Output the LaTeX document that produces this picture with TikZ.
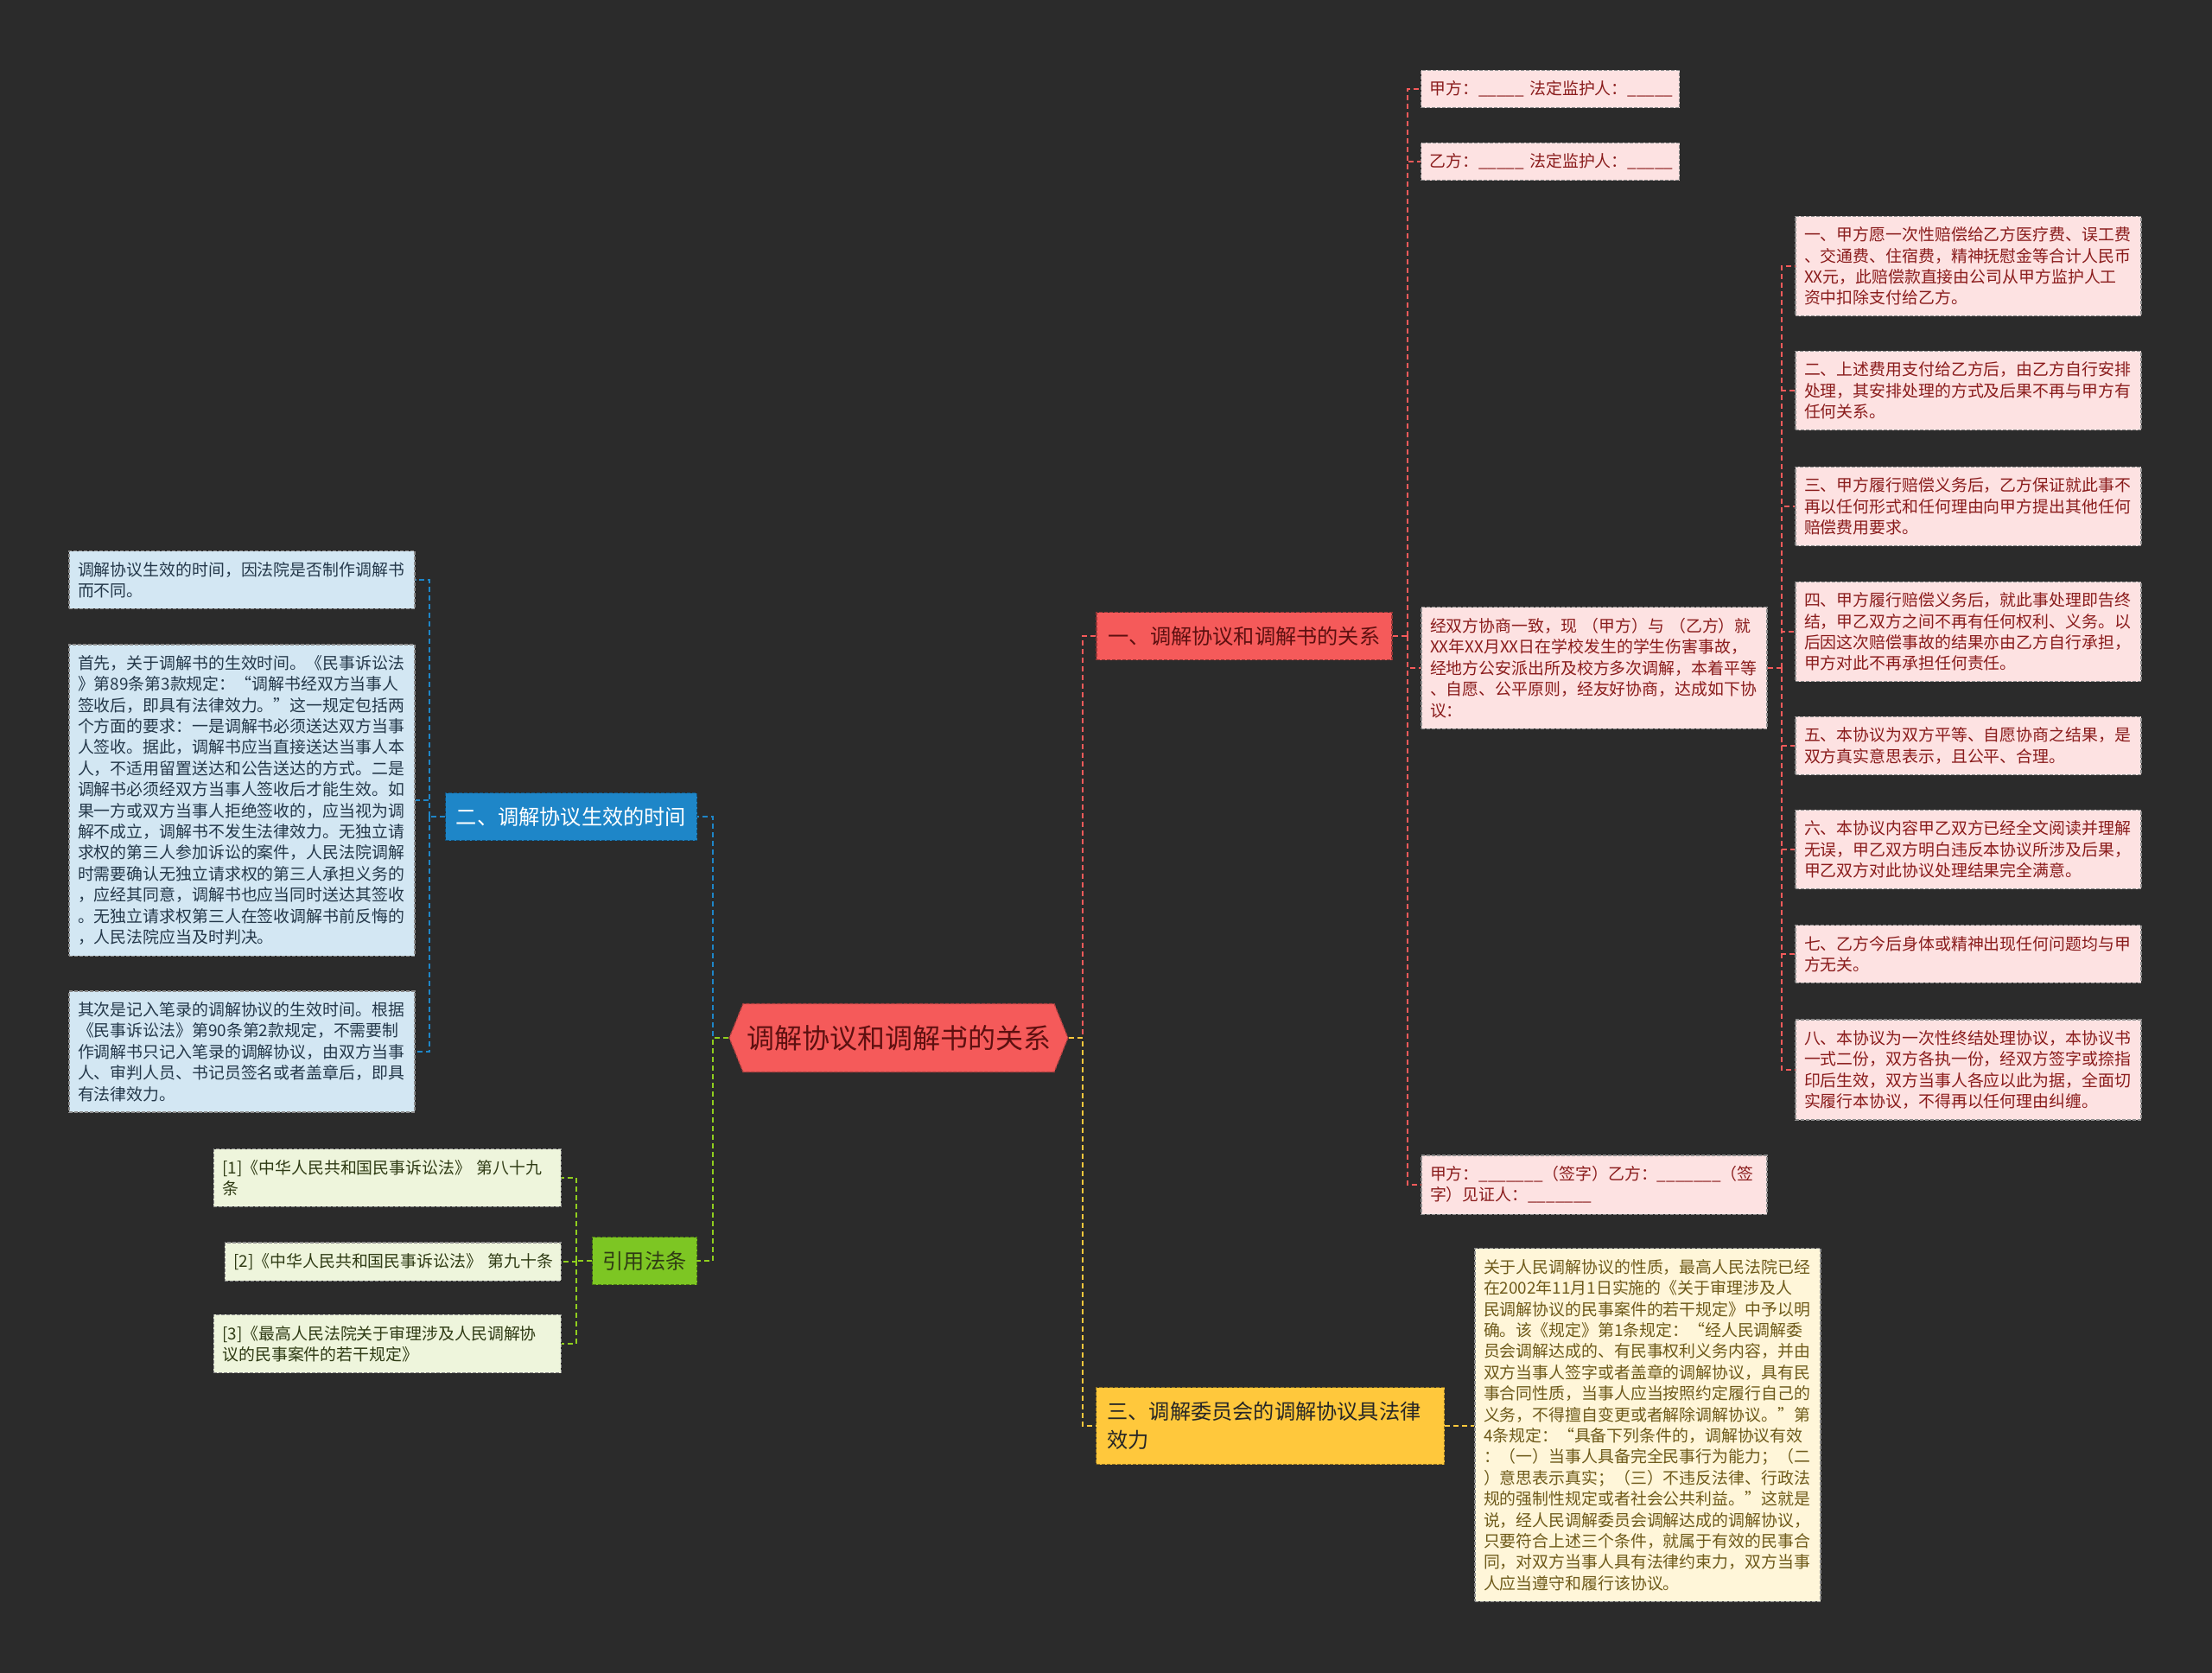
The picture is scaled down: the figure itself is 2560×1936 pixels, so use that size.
\documentclass[tikz,border=0pt]{standalone}
\usepackage{fontspec}
\newfontfamily\cjk{Noto Sans CJK SC}
\usetikzlibrary{positioning, shapes.symbols, calc}

\definecolor{canvas}{HTML}{2B2B2B}
\definecolor{rootred}{HTML}{F55A5A}
\definecolor{rootink}{HTML}{5E1010}
\definecolor{redleaf}{HTML}{FDE2E2}
\definecolor{redink}{HTML}{8A1C1C}
\definecolor{bluebox}{HTML}{1E86C8}
\definecolor{blueleaf}{HTML}{D3E7F3}
\definecolor{blueink}{HTML}{24384A}
\definecolor{greenbox}{HTML}{7DC623}
\definecolor{greenleaf}{HTML}{EEF5DC}
\definecolor{greenink}{HTML}{2F3B14}
\definecolor{yellowbox}{HTML}{FFC83C}
\definecolor{yellowleaf}{HTML}{FFF6D9}
\definecolor{yellowink}{HTML}{6E5A1A}

\newcommand\leaffont{\cjk\fontsize{18.9pt}{24.4pt}\selectfont}
\newcommand\topicfont{\cjk\fontsize{24.2pt}{33pt}\selectfont}
\newcommand\rootfont{\cjk\fontsize{32pt}{38pt}\selectfont}

\begin{document}
\begin{tikzpicture}[
    x=1pt, y=-1pt,
    root/.style={
        signal,
        signal to=west and east,
        signal pointer angle=136,
        draw=rootred!70!black,
        dash pattern=on 4pt off 2pt,
        line width=1.2pt,
        fill=rootred,
        text=rootink,
        font=\rootfont,
        minimum width=392pt,
        minimum height=79pt,
        inner sep=0pt
    },
    topic/.style={
        dash pattern=on 4pt off 2pt,
        line width=1.2pt,
        minimum height=55pt,
        inner xsep=10pt,
        align=left,
        font=\topicfont
    },
    redtopic/.style={topic, draw=rootred!60!black, fill=rootred, text=rootink},
    bluetopic/.style={topic, draw=bluebox!60!black, fill=bluebox, text=white},
    greentopic/.style={topic, draw=greenbox!60!black, fill=greenbox, text=greenink},
    yellowtopic/.style={topic, draw=yellowbox!55!black, fill=yellowbox, text=black!85},
    leaf/.style={
        draw=black!45,
        dash pattern=on 4pt off 2pt,
        line width=1.2pt,
        align=left,
        font=\leaffont,
        text width=380pt,
        inner xsep=10pt,
        inner ysep=12.5pt
    },
    redleafbox/.style={leaf, fill=redleaf, text=redink},
    blueleafbox/.style={leaf, fill=blueleaf, text=blueink},
    greenleafbox/.style={leaf, fill=greenleaf, text=greenink},
    yellowleafbox/.style={leaf, fill=yellowleaf, text=yellowink},
    wire/.style={line width=2pt, dash pattern=on 6pt off 4pt},
    redwire/.style={wire, draw=rootred},
    bluewire/.style={wire, draw=bluebox},
    greenwire/.style={wire, draw=greenbox!85!yellow},
    yellowwire/.style={wire, draw=yellowbox}
]

\useasboundingbox (0,0) rectangle (2560,1936);
\fill[canvas] (0,0) rectangle (2560,1936);

% --- Centre and main topics ------------------------------------------------
\node[root] (root) at (1040,1201) {调解协议和调解书的关系};

\node[redtopic, minimum width=342pt] (rel) at (1440,736)
    {一、调解协议和调解书的关系};
\node[bluetopic, minimum width=291pt] (eff) at (661,945)
    {二、调解协议生效的时间};
\node[greentopic, minimum width=121pt] (law) at (746,1459) {引用法条};
\node[yellowtopic, text width=377pt, inner xsep=13pt, minimum height=89pt]
    (com) at (1470,1650)
    {三、调解委员会的调解协议具法律\\效力};

% --- Topic one: agreement text -----------------------------------------------
\node[redleafbox, text width=279pt] (pa) at (1794,103)
    {甲方：\_\_\_\_\_~法定监护人：\_\_\_\_\_};
\node[redleafbox, text width=279pt] (pb) at (1794,187)
    {乙方：\_\_\_\_\_~法定监护人：\_\_\_\_\_};
\node[redleafbox] (pre) at (1845,773)
    {经双方协商一致，现~（甲方）与~（乙方）就\\
     XX年XX月XX日在学校发生的学生伤害事故，\\
     经地方公安派出所及校方多次调解，本着平等\\
     、自愿、公平原则，经友好协商，达成如下协\\
     议：};
\node[redleafbox] (sig) at (1845,1371)
    {甲方：\_\_\_\_\_\_\_（签字）乙方：\_\_\_\_\_\_\_（签\\
     字）见证人：\_\_\_\_\_\_\_};

\node[redleafbox] (c1) at (2278,308)
    {一、甲方愿一次性赔偿给乙方医疗费、误工费\\
     、交通费、住宿费，精神抚慰金等合计人民币\\
     XX元，此赔偿款直接由公司从甲方监护人工\\
     资中扣除支付给乙方。};
\node[redleafbox] (c2) at (2278,452)
    {二、上述费用支付给乙方后，由乙方自行安排\\
     处理，其安排处理的方式及后果不再与甲方有\\
     任何关系。};
\node[redleafbox] (c3) at (2278,586)
    {三、甲方履行赔偿义务后，乙方保证就此事不\\
     再以任何形式和任何理由向甲方提出其他任何\\
     赔偿费用要求。};
\node[redleafbox] (c4) at (2278,731)
    {四、甲方履行赔偿义务后，就此事处理即告终\\
     结，甲乙双方之间不再有任何权利、义务。以\\
     后因这次赔偿事故的结果亦由乙方自行承担，\\
     甲方对此不再承担任何责任。};
\node[redleafbox] (c5) at (2278,863)
    {五、本协议为双方平等、自愿协商之结果，是\\
     双方真实意思表示，且公平、合理。};
\node[redleafbox] (c6) at (2278,983)
    {六、本协议内容甲乙双方已经全文阅读并理解\\
     无误，甲乙双方明白违反本协议所涉及后果，\\
     甲乙双方对此协议处理结果完全满意。};
\node[redleafbox] (c7) at (2278,1104)
    {七、乙方今后身体或精神出现任何问题均与甲\\
     方无关。};
\node[redleafbox] (c8) at (2278,1238)
    {八、本协议为一次性终结处理协议，本协议书\\
     一式二份，双方各执一份，经双方签字或捺指\\
     印后生效，双方当事人各应以此为据，全面切\\
     实履行本协议，不得再以任何理由纠缠。};

% --- Topic two: time of effect -----------------------------------------------
\node[blueleafbox] (ea) at (280,671)
    {调解协议生效的时间，因法院是否制作调解书\\
     而不同。};
\node[blueleafbox] (eb) at (280,926)
    {首先，关于调解书的生效时间。《民事诉讼法\\
     》第89条第3款规定：“调解书经双方当事人\\
     签收后，即具有法律效力。”这一规定包括两\\
     个方面的要求：一是调解书必须送达双方当事\\
     人签收。据此，调解书应当直接送达当事人本\\
     人，不适用留置送达和公告送达的方式。二是\\
     调解书必须经双方当事人签收后才能生效。如\\
     果一方或双方当事人拒绝签收的，应当视为调\\
     解不成立，调解书不发生法律效力。无独立请\\
     求权的第三人参加诉讼的案件，人民法院调解\\
     时需要确认无独立请求权的第三人承担义务的\\
     ，应经其同意，调解书也应当同时送达其签收\\
     。无独立请求权第三人在签收调解书前反悔的\\
     ，人民法院应当及时判决。};
\node[blueleafbox] (ec) at (280,1217)
    {其次是记入笔录的调解协议的生效时间。根据\\
     《民事诉讼法》第90条第2款规定，不需要制\\
     作调解书只记入笔录的调解协议，由双方当事\\
     人、审判人员、书记员签名或者盖章后，即具\\
     有法律效力。};

% --- Cited laws ----------------------------------------------------------------
\node[greenleafbox, anchor=east, text width=382pt] (la1) at (650,1363)
    {[1]《中华人民共和国民事诉讼法》~第八十九\\条};
\node[greenleafbox, anchor=east, text width=369pt] (la2) at (650,1460)
    {[2]《中华人民共和国民事诉讼法》~第九十条};
\node[greenleafbox, anchor=east, text width=382pt] (la3) at (650,1555)
    {[3]《最高人民法院关于审理涉及人民调解协\\议的民事案件的若干规定》};

% --- Topic three: committee agreement -----------------------------------------
\node[yellowleafbox] (note) at (1907,1649)
    {关于人民调解协议的性质，最高人民法院已经\\
     在2002年11月1日实施的《关于审理涉及人\\
     民调解协议的民事案件的若干规定》中予以明\\
     确。该《规定》第1条规定：“经人民调解委\\
     员会调解达成的、有民事权利义务内容，并由\\
     双方当事人签字或者盖章的调解协议，具有民\\
     事合同性质，当事人应当按照约定履行自己的\\
     义务，不得擅自变更或者解除调解协议。”第\\
     4条规定：“具备下列条件的，调解协议有效\\
     ：（一）当事人具备完全民事行为能力；（二\\
     ）意思表示真实；（三）不违反法律、行政法\\
     规的强制性规定或者社会公共利益。”这就是\\
     说，经人民调解委员会调解达成的调解协议，\\
     只要符合上述三个条件，就属于有效的民事合\\
     同，对双方当事人具有法律约束力，双方当事\\
     人应当遵守和履行该协议。};

% --- Connectors: centre to topics ---------------------------------------------
\coordinate (rhub) at ($(root.east)+(16,0)$);
\coordinate (lhub) at ($(root.west)+(-18,0)$);
\draw[redwire] (root.east) -- (rhub) |- (rel.west);
\draw[yellowwire] (root.east) -- (rhub) |- (com.west);
\draw[bluewire] (root.west) -- (lhub) |- (eff.east);
\draw[greenwire] (root.west) -- (lhub) |- (law.east);

% --- Connectors: topics to leaves ---------------------------------------------
\coordinate (relhub) at ($(rel.east)+(17,0)$);
\draw[redwire] (rel.east) -- (relhub)
    (relhub) |- (pa.west) (relhub) |- (pb.west)
    (relhub) |- (pre.west) (relhub) |- (sig.west);

\coordinate (prehub) at ($(pre.east)+(16,0)$);
\draw[redwire] (pre.east) -- (prehub)
    (prehub) |- (c1.west) (prehub) |- (c2.west)
    (prehub) |- (c3.west) (prehub) |- (c4.west)
    (prehub) |- (c5.west) (prehub) |- (c6.west)
    (prehub) |- (c7.west) (prehub) |- (c8.west);

\coordinate (effhub) at ($(eff.west)+(-18,0)$);
\draw[bluewire] (eff.west) -- (effhub)
    (effhub) |- (ea.east) (effhub) |- (eb.east) (effhub) |- (ec.east);

\coordinate (lawhub) at ($(law.west)+(-18,0)$);
\draw[greenwire] (law.west) -- (lawhub)
    (lawhub) |- (la1.east) (lawhub) |- (la2.east) (lawhub) |- (la3.east);

\draw[yellowwire] (com.east) -- (com.east -| note.west);

\end{tikzpicture}
\end{document}
